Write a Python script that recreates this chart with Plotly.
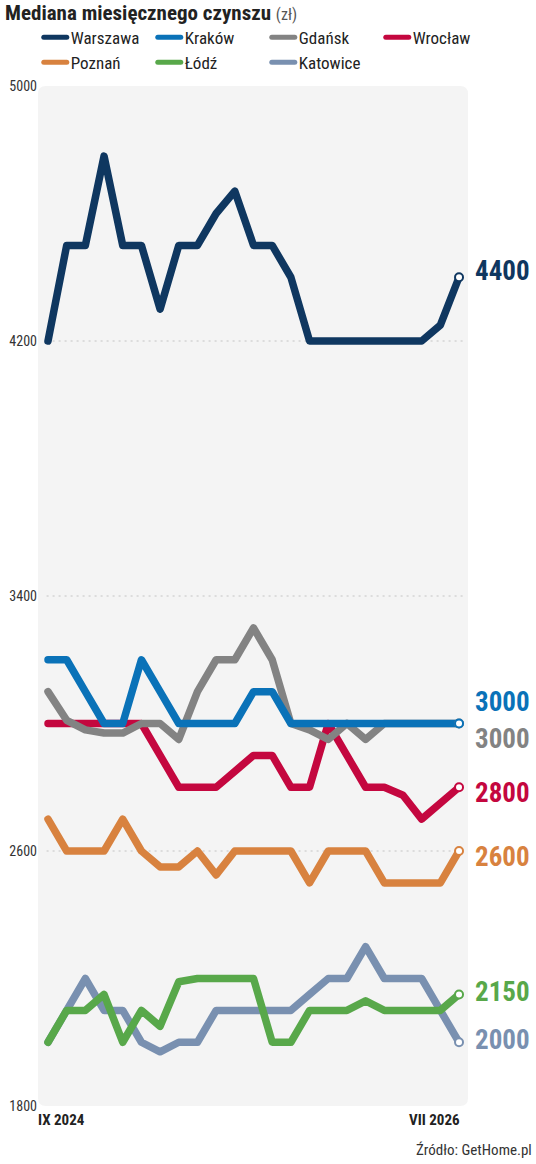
import plotly.graph_objects as go

# ---------------- data ----------------
months = ["IX 2024", "X 2024", "XI 2024", "XII 2024",
          "I 2025", "II 2025", "III 2025", "IV 2025", "V 2025", "VI 2025",
          "VII 2025", "VIII 2025", "IX 2025", "X 2025", "XI 2025", "XII 2025",
          "I 2026", "II 2026", "III 2026", "IV 2026", "V 2026", "VI 2026", "VII 2026"]

warszawa = [4200, 4500, 4500, 4780, 4500, 4500, 4300, 4500, 4500, 4600, 4670, 4500,
            4500, 4400, 4200, 4200, 4200, 4200, 4200, 4200, 4200, 4250, 4400]
krakow = [3200, 3200, 3100, 3000, 3000, 3200, 3100, 3000, 3000, 3000, 3000, 3100,
          3100, 3000, 3000, 3000, 3000, 3000, 3000, 3000, 3000, 3000, 3000]
gdansk = [3100, 3010, 2980, 2970, 2970, 3000, 3000, 2950, 3100, 3200, 3200, 3300,
          3200, 3000, 2980, 2950, 3000, 2950, 3000, 3000, 3000, 3000, 3000]
wroclaw = [3000, 3000, 3000, 3000, 3000, 3000, 2900, 2800, 2800, 2800, 2850, 2900,
           2900, 2800, 2800, 3000, 2900, 2800, 2800, 2775, 2700, 2750, 2800]
poznan = [2700, 2600, 2600, 2600, 2700, 2600, 2550, 2550, 2600, 2525, 2600, 2600,
          2600, 2600, 2500, 2600, 2600, 2600, 2500, 2500, 2500, 2500, 2600]
lodz = [2000, 2100, 2100, 2150, 2000, 2100, 2050, 2190, 2200, 2200, 2200, 2200,
        2000, 2000, 2100, 2100, 2100, 2130, 2100, 2100, 2100, 2100, 2150]
katowice = [2000, 2100, 2200, 2100, 2100, 2000, 1970, 2000, 2000, 2100, 2100, 2100,
            2100, 2100, 2150, 2200, 2200, 2300, 2200, 2200, 2200, 2100, 2000]

city_names = ["Warszawa", "Kraków", "Gdańsk", "Wrocław", "Poznań", "Łódź", "Katowice"]
city_values = [warszawa, krakow, gdansk, wroclaw, poznan, lodz, katowice]

y_ticks = [1800, 2600, 3400, 4200, 5000]
x_tick_labels = [months[0], months[-1]]

title_text = "Mediana miesięcznego czynszu"
unit_text = "(zł)"
source_text = "Źródło: GetHome.pl"

# ---------------- style ----------------
colors = ["#0f3760", "#0a72b8", "#838383", "#c4073f", "#d8823f", "#58a84a", "#7990b0"]
label_shift = [6, 22, -15, -6, -6, 2, 2]   # px offsets of end labels
W, H = 536, 1164
ML, MR, MT, MB = 38, 68, 86, 58
FONT = "Roboto Condensed, Lato"

fig = go.Figure()
n = len(months)
# draw in reverse so Warszawa/Kraków sit on top
for i in reversed(range(len(city_names))):
    fig.add_trace(go.Scatter(
        x=months, y=city_values[i], mode="lines", name=city_names[i],
        line=dict(color=colors[i], width=7.5), legendrank=i + 1,
        hoverinfo="skip"))
for i in reversed(range(len(city_names))):
    fig.add_trace(go.Scatter(
        x=[months[-1]], y=[city_values[i][-1]], mode="markers", showlegend=False,
        marker=dict(size=8, color="white", line=dict(color=colors[i], width=2)),
        hoverinfo="skip"))

annotations = []
for i in range(len(city_names)):
    annotations.append(dict(
        x=n - 1, y=city_values[i][-1], xref="x", yref="y",
        text=f"<b>{city_values[i][-1]}</b>", showarrow=False,
        xanchor="left", yanchor="middle", xshift=14, yshift=label_shift[i],
        font=dict(family=FONT, size=27, color=colors[i])))

annotations.append(dict(x=0, y=-0.0137, xref="paper", yref="paper",
                        text=f"<b>{x_tick_labels[0]}</b>", showarrow=False,
                        xanchor="left", yanchor="middle", xshift=-2,
                        font=dict(family=FONT, size=15, color="#222")))
annotations.append(dict(x=n - 1, y=-0.0137, xref="x", yref="paper",
                        text=f"<b>{x_tick_labels[1]}</b>", showarrow=False,
                        xanchor="right", yanchor="middle", xshift=3,
                        font=dict(family=FONT, size=15, color="#222")))
annotations.append(dict(x=(W - 2 - ML) / (W - ML - MR), y=-0.0431, xref="paper", yref="paper",
                        text=source_text, showarrow=False,
                        xanchor="right", yanchor="middle",
                        font=dict(family=FONT, size=15, color="#333")))

rx, ry = 8 / (W - ML - MR), 8 / (H - MT - MB)
bg_path = (f"M {rx},0 L {1-rx},0 Q 1,0 1,{ry} L 1,{1-ry} Q 1,1 {1-rx},1 "
           f"L {rx},1 Q 0,1 0,{1-ry} L 0,{ry} Q 0,0 {rx},0 Z")
shapes = [dict(type="path", path=bg_path, xref="paper", yref="paper",
               fillcolor="#f4f4f4", line=dict(width=0), layer="below")]
for v in y_ticks[1:-1]:
    shapes.append(dict(type="line", xref="paper", yref="y", x0=0.02, x1=0.99, y0=v, y1=v,
                       line=dict(color="#c4c4c4", width=1, dash="2px,4px"), layer="below"))

fig.update_layout(
    width=W, height=H,
    margin=dict(l=ML, r=MR, t=MT, b=MB, autoexpand=False),
    paper_bgcolor="white", plot_bgcolor="rgba(0,0,0,0)",
    font=dict(family=FONT, color="#222"),
    title=dict(text=f"<b>{title_text}</b> <span style='font-size:16px;color:#555'>{unit_text}</span>",
               x=5 / W, xref="container", xanchor="left",
               y=1 - 13 / H, yref="container", yanchor="middle",
               font=dict(family=FONT, size=21, color="#222")),
    legend=dict(orientation="h", xref="paper", yref="paper",
                x=-0.0005, xanchor="left", y=1.065, yanchor="top",
                font=dict(family=FONT, size=17, color="#222"),
                entrywidth=69, itemwidth=30, bgcolor="rgba(0,0,0,0)",
                tracegroupgap=0),
    xaxis=dict(type="category", range=[-0.535, n - 1 + 0.48], showticklabels=False,
               showgrid=False, zeroline=False, showline=False, ticks="", automargin=False),
    yaxis=dict(range=[y_ticks[0], y_ticks[-1]], tickvals=y_ticks, showgrid=False,
               zeroline=False, showline=False, ticks="", automargin=False,
               tickfont=dict(family=FONT, size=14, color="#333")),
    shapes=shapes, annotations=annotations,
    showlegend=True,
)

post = ("document.body.style.margin='0';document.body.style.padding='0';"
        "document.querySelectorAll('.scatterlayer .js-line').forEach(function(p){"
        "p.style.strokeLinejoin='round';p.style.strokeLinecap='round';});"
        "document.querySelectorAll('.legend .js-line').forEach(function(p){"
        "p.setAttribute('d','M6,0h23');p.style.strokeWidth='5px';p.style.strokeLinecap='round';});"
        "document.querySelectorAll('.legend .legendtext').forEach(function(t){"
        "t.setAttribute('x','33');});")
fig.write_html("out.html", post_script=post, config={"displayModeBar": False})
